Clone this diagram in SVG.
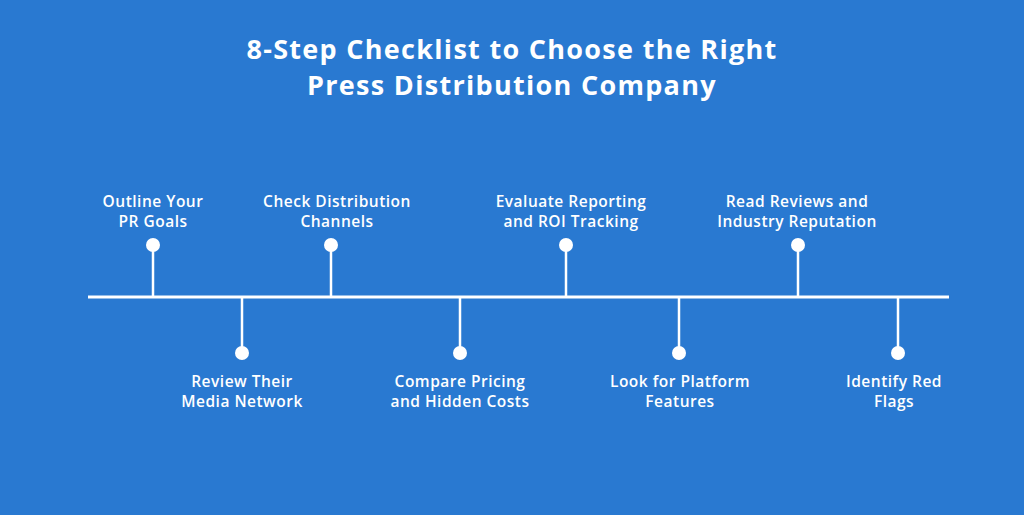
<svg xmlns="http://www.w3.org/2000/svg" width="1024" height="515" viewBox="0 0 1024 515">
<style>
.title{font-family:"Open Sans","Liberation Sans",sans-serif;font-weight:700;font-size:27px;letter-spacing:1.3px;fill:#fff;text-anchor:middle}
.lbl{font-family:"Open Sans","Liberation Sans",sans-serif;font-weight:600;font-size:15.5px;letter-spacing:0.5px;fill:#fff;text-anchor:middle}
.stem{stroke:#fff;stroke-width:2.5;fill:none}
.dot{fill:#fff}
</style>
<rect width="1024" height="515" fill="#2979d1"/>
<g id="title">
<text class="title" x="512" y="59">8-Step Checklist to Choose the Right</text>
<text class="title" x="512" y="95">Press Distribution Company</text>
</g>
<g id="connectors">
<line x1="88" y1="297" x2="949" y2="297" stroke="#fff" stroke-width="3"/>
<line class="stem" x1="153" y1="245" x2="153" y2="297"/>
<line class="stem" x1="242" y1="297" x2="242" y2="353"/>
<line class="stem" x1="331" y1="245" x2="331" y2="297"/>
<line class="stem" x1="460" y1="297" x2="460" y2="353"/>
<line class="stem" x1="566" y1="245" x2="566" y2="297"/>
<line class="stem" x1="679" y1="297" x2="679" y2="353"/>
<line class="stem" x1="798" y1="245" x2="798" y2="297"/>
<line class="stem" x1="898" y1="297" x2="898" y2="353"/>
</g>
<g id="step1"><circle class="dot" cx="153" cy="245" r="7"/><text class="lbl" x="153" y="207">Outline Your</text><text class="lbl" x="153" y="227">PR Goals</text></g>
<g id="step2"><circle class="dot" cx="242" cy="353" r="7"/><text class="lbl" x="242" y="387">Review Their</text><text class="lbl" x="242" y="407">Media Network</text></g>
<g id="step3"><circle class="dot" cx="331" cy="245" r="7"/><text class="lbl" x="337" y="207">Check Distribution</text><text class="lbl" x="337" y="227">Channels</text></g>
<g id="step4"><circle class="dot" cx="460" cy="353" r="7"/><text class="lbl" x="460" y="387">Compare Pricing</text><text class="lbl" x="460" y="407">and Hidden Costs</text></g>
<g id="step5"><circle class="dot" cx="566" cy="245" r="7"/><text class="lbl" x="571" y="207">Evaluate Reporting</text><text class="lbl" x="571" y="227">and ROI Tracking</text></g>
<g id="step6"><circle class="dot" cx="679" cy="353" r="7"/><text class="lbl" x="680" y="387">Look for Platform</text><text class="lbl" x="680" y="407">Features</text></g>
<g id="step7"><circle class="dot" cx="798" cy="245" r="7"/><text class="lbl" x="797" y="207">Read Reviews and</text><text class="lbl" x="797" y="227">Industry Reputation</text></g>
<g id="step8"><circle class="dot" cx="898" cy="353" r="7"/><text class="lbl" x="894" y="387">Identify Red</text><text class="lbl" x="894" y="407">Flags</text></g>
</svg>
